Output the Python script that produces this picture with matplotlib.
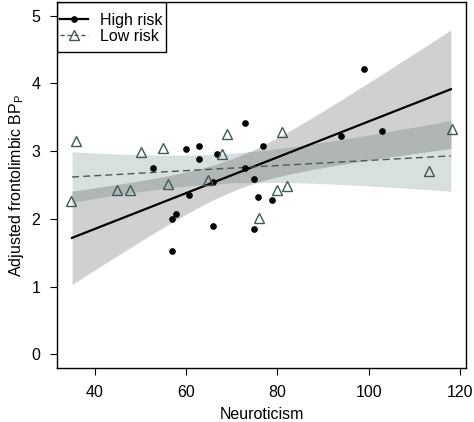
import matplotlib
matplotlib.use('Agg')
import matplotlib.pyplot as plt
from matplotlib.patches import Rectangle
import numpy as np

plt.rcParams['font.family'] = ['Liberation Sans', 'DejaVu Sans']
plt.rcParams['font.size'] = 11.5

# High risk group (neuroticism, adjusted BP)
high_x = [60.0, 52.7, 60.7, 56.8, 57.8, 56.8, 72.8, 62.8, 76.9, 62.8, 66.8,
          72.8, 74.8, 65.8, 75.8, 78.8, 65.8, 74.9, 94.0, 102.9, 98.9]
high_y = [3.03, 2.75, 2.36, 2.00, 2.07, 1.53, 3.41, 3.08, 3.08, 2.89, 2.96,
          2.75, 2.59, 2.54, 2.33, 2.28, 1.90, 1.85, 3.22, 3.30, 4.21]

# Low risk group
low_x = [35.9, 50.0, 55.0, 44.8, 47.8, 56.0, 34.8, 69.0, 81.0, 67.9,
         64.8, 79.9, 82.0, 76.0, 118.2, 113.1]
low_y = [3.15, 2.99, 3.05, 2.43, 2.42, 2.51, 2.26, 3.26, 3.28, 2.96,
         2.58, 2.42, 2.48, 2.02, 3.32, 2.71]

x_ticks = [40, 60, 80, 100, 120]
y_ticks = [0, 1, 2, 3, 4, 5]


def fit_band(x, y, xs, t):
    # least squares line with 95% confidence band
    x = np.asarray(x)
    y = np.asarray(y)
    n = len(x)
    b, a = np.polyfit(x, y, 1)
    resid = y - (a + b * x)
    s = np.sqrt(np.sum(resid ** 2) / (n - 2))
    sxx = np.sum((x - x.mean()) ** 2)
    fit = a + b * xs
    se = s * np.sqrt(1.0 / n + (xs - x.mean()) ** 2 / sxx)
    return fit, fit - t * se, fit + t * se


xs = np.linspace(35, 118, 200)
hi_fit, hi_lo, hi_up = fit_band(high_x, high_y, xs, 2.093)
lo_fit, lo_lo, lo_up = fit_band(low_x, low_y, xs, 2.145)

fig = plt.figure(figsize=(4.74, 4.22), dpi=100)
ax = fig.add_axes([0.1203, 0.128, 0.8627, 0.867])

# Confidence bands and their overlap
ax.fill_between(xs, hi_lo, hi_up, color='#d0d0d0', linewidth=0)
ax.fill_between(xs, lo_lo, lo_up, color='#d8dfdf', linewidth=0)
ov_lo = np.maximum(hi_lo, lo_lo)
ov_up = np.minimum(hi_up, lo_up)
ax.fill_between(xs, ov_lo, ov_up, where=ov_up > ov_lo, color='#b0b6b6',
                linewidth=0)

# Fitted lines
ax.plot(xs, hi_fit, color='black', linewidth=1.6)
ax.plot(xs, lo_fit, color='#4a5a5a', linewidth=1.0, linestyle=(0, (5, 3)))

# Points
ax.plot(high_x, high_y, 'o', color='black', markersize=3.8, linestyle='')
ax.plot(low_x, low_y, '^', markerfacecolor='none', markeredgecolor='#3f5858',
        markeredgewidth=1.0, markersize=7.5, linestyle='')

# Legend (frame drawn separately, R style)
h1, = ax.plot([], [], color='black', linewidth=1.6, marker='o', markersize=3.8)
h2, = ax.plot([], [], color='#4a5a5a', linewidth=1.0, linestyle=(0, (3, 2)),
              marker='^', markerfacecolor='none', markeredgecolor='#3f5858',
              markersize=6.5)
ax.legend([h1, h2], ['High risk', 'Low risk'], loc='upper left',
          bbox_to_anchor=(0.007, 0.971), borderaxespad=0, borderpad=0,
          frameon=False, handlelength=1.75, handletextpad=0.75,
          labelspacing=0.08, fontsize=11.5)
ax.add_patch(Rectangle((0, 1 - 0.1366), 0.2665, 0.1366, transform=ax.transAxes,
                       facecolor='none', edgecolor='black', linewidth=1.0,
                       zorder=5))

ax.set_xlim(31.7, 121.3)
ax.set_ylim(-0.2, 5.2)
ax.set_xticks(x_ticks)
ax.set_yticks(y_ticks)
ax.tick_params(direction='out', length=5, width=0.8, pad=7, labelsize=11.5)
for sp in ax.spines.values():
    sp.set_linewidth(1.0)

ax.set_xlabel('Neuroticism', fontsize=11.5, labelpad=5)
ax.set_ylabel(r'Adjusted frontolimbic BP$_\mathregular{P}$', fontsize=11.5,
              labelpad=4)

fig.savefig('out.png', dpi=100)
